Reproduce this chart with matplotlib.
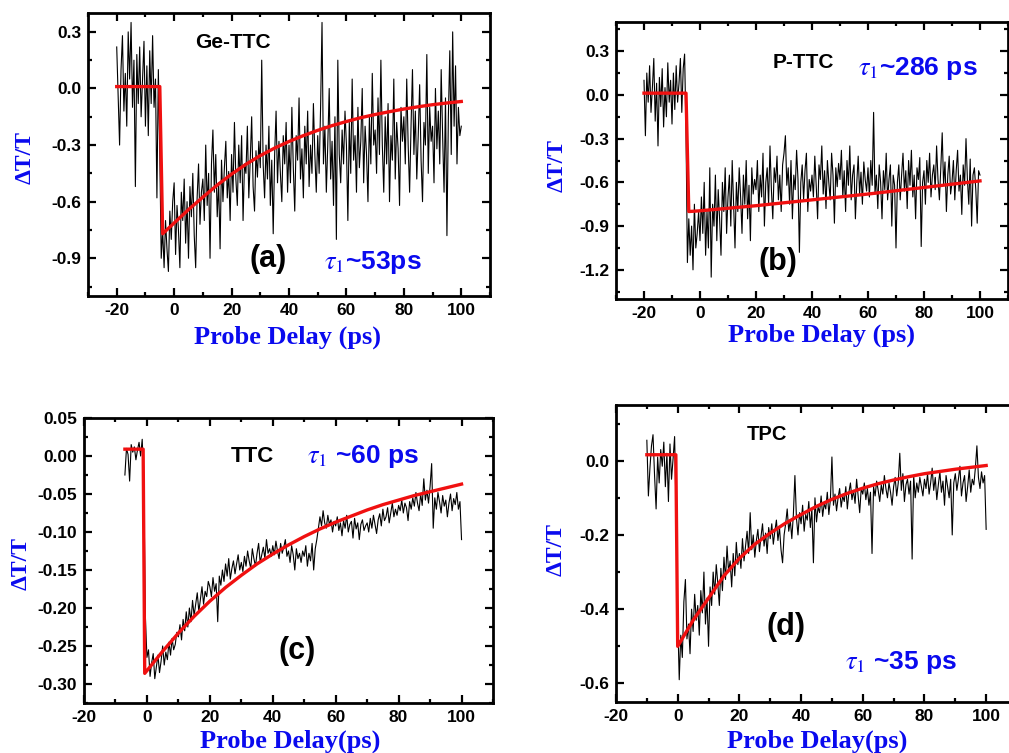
import numpy as np
import matplotlib
matplotlib.use("Agg")
import matplotlib.pyplot as plt
from matplotlib.ticker import MultipleLocator

plt.rcParams['mathtext.fontset'] = 'stix'
plt.rcParams['axes.unicode_minus'] = False

W, H = 1009, 753
BLUE = '#0a0aee'
RED = '#f01010'

# ---- (a) Ge-TTC : delay -20..100 ps, step 0.5, values in units of 0.01
ge_start = -20
ge_dt = [
    22, -5, -30, 10, 28, -12, 8, -20, 30, 5, 35, -10, 15, -52, 18, -8, 22, -15, 5, 25,
    -20, 12, -25, 20, -8, 28, -10, 5, -58, 10, -35, -90, -75, -95, -70, -85, -97, -65, -80, -60,
    -50, -88, -62, -75, -95, -55, -70, -48, -82, -60, -90, -52, -68, -45, -78, -95, -58, -40, -72, -55,
    -48, -70, -30, -62, -45, -90, -40, -22, -55, -35, -68, -50, -85, -38, -60, -42, -28, -58, -44, -70,
    -35, -55, -18, -48, -62, -30, -50, -25, -70, -40, -45, -20, -58, -38, -15, -52, -65, -33, -47, -28,
    -42, 15, -40, -58, -30, -48, -20, -62, -38, -77, -35, -12, -50, -28, -45, -60, -25, -40, -18, -55,
    -30, -50, -10, -42, -65, -25, -38, -5, -48, -32, -58, -20, -40, -12, -52, -30, -45, -8, -35, -55,
    -25, -45, -10, 35, -40, -20, -55, -30, 0, -48, -28, -62, -15, -80, 15, -35, -50, -22, -40, -12,
    -30, -70, -18, -45, 5, -38, -25, -55, -10, -42, -28, 0, -50, -20, -35, -60, -15, -40, 8, -30,
    -22, -45, -5, -35, 15, -30, -55, -15, -40, -8, -60, -25, -38, 5, -48, -18, -32, -62, -10, -28,
    -15, -40, 5, -30, -55, -20, 10, -35, -12, -48, -25, 2, -38, -60, -18, -30, 18, -45, -10, -28,
    -20, -50, 0, -32, -12, -40, 10, -25, -55, -5, -78, -15, 20, -35, 30, -20, 12, -40, -10, -25,
    -20,
]
ge_fit_t = [-20, -5, -4, 0, 5, 10, 15, 20, 25, 30, 35, 40, 45, 50, 55, 60, 65, 70, 75, 80, 85, 90, 95, 100]
ge_fit_v = [0.01, 0.01, -0.77, -0.713, -0.642, -0.576, -0.512, -0.454, -0.402, -0.356, -0.316, -0.281,
            -0.25, -0.222, -0.197, -0.175, -0.155, -0.138, -0.123, -0.109, -0.097, -0.086, -0.077, -0.069]

# ---- (b) P-TTC : delay -20..100 ps, step 0.5, values in units of 0.01
p_start = -20
p_dt = [
    10, -28, 15, -5, 20, -12, 5, 25, -18, 8, -35, 12, -8, 18, -22, 5, -15, 22, -5, 10,
    -20, 15, -10, 20, -5, 8, 25, -12, 18, 28, -25, -115, -85, -110, -90, -120, -75, -105, -95, -80,
    -100, -70, -95, -60, -110, -80, -105, -50, -125, -75, -90, -55, -100, -65, -85, -110, -60, -80, -50, -95,
    -70, -55, -90, -45, -75, -105, -60, -80, -50, -70, -95, -55, -75, -45, -85, -62, -100, -50, -68, -58,
    -65, -45, -80, -55, -70, -40, -90, -60, -50, -75, -35, -65, -85, -50, -60, -42, -72, -55, -80, -48,
    -40, -28, -62, -50, -75, -45, -85, -55, -65, -38, -58, -108, -60, -48, -72, -52, -40, -80, -58, -66,
    -55, -70, -42, -62, -85, -48, -58, -35, -68, -52, -78, -45, -60, -72, -40, -55, -88, -50, -63, -47,
    -58, -38, -70, -52, -80, -45, -62, -35, -72, -55, -48, -85, -60, -42, -68, -53, -75, -46, -58, -66,
    -50, -70, -45, -62, -12, -68, -55, -78, -48, -60, -85, -52, -65, -40, -72, -58, -48, -90, -55, -62,
    -105, -60, -48, -72, -55, -40, -66, -52, -78, -45, -62, -38, -70, -55, -85, -50, -58, -43, -104, -60,
    -52, -75, -45, -60, -40, -70, -55, -48, -65, -35, -58, -72, -50, -26, -62, -46, -80, -55, -42, -68,
    -60, -45, -72, -52, -38, -66, -55, -82, -48, -62, -30, -58, -75, -44, -90, -55, -50, -65, -88, -52,
    -55,
]
p_fit_t = [-20, -5, -4, 0, 20, 40, 60, 80, 100]
p_fit_v = [0.012, 0.012, -0.80, -0.795, -0.76, -0.72, -0.68, -0.635, -0.59]

# ---- (c) TTC : delay -7..100 ps, step 0.5, values in units of 0.001
ttc_start = -7
ttc_dt = [
    -25, 10, 2, -33, 15, 5, 12, -5, 8, 18, 0, 22,
    -30, -210,
    -265, -255, -290, -272, -260, -293, -278, -262, -285, -270, -250, -275, -258, -268, -245, -262, -240, -255, -248, -232,
    -238, -222, -242, -215, -230, -205, -225, -200, -218, -190, -210, -195, -180, -205, -188, -172, -195, -178, -185, -165,
    -172, -185, -160, -178, -168, -218, -158, -170, -150, -165, -142, -158, -135, -162, -148, -138, -155, -142, -130, -150,
    -140, -152, -132, -145, -125, -138, -148, -122, -135, -145, -128, -115, -140, -130, -120, -135, -110, -128, -122, -132,
    -118, -130, -112, -125, -135, -115, -128, -120, -110, -132, -125, -140, -118, -130, -150, -122, -135, -128, -140, -125,
    -132, -118, -145, -128, -138, -115, -150, -122, -110, -95, -80, -92, -72, -88, -95, -78, -90, -84, -100, -86,
    -92, -80, -98, -88, -105, -85, -95, -78, -100, -90, -86, -108, -82, -96, -88, -110, -90, -84, -98, -92,
    -88, -100, -82, -95, -78, -90, -102, -84, -76, -92, -70, -85, -80, -68, -88, -75, -62, -80, -70, -78,
    -65, -72, -58, -75, -62, -68, -85, -60, -70, -55, -66, -48, -62, -72, -50, -65, -30, -58, -45, -62,
    -40, -10, -95, -55, -70, -48, -60, -75, -52, -66, -58, -80, -62, -50, -72, -56, -64, -48, -70, -60,
    -110,
]
ttc_fit_t = [-7, -1.2, -0.7, 5, 10, 15, 20, 25, 30, 35, 40, 45, 50, 55, 60, 65, 70, 75, 80, 85, 90, 95, 100]
ttc_fit_v = [0.009, 0.009, -0.286, -0.257, -0.233, -0.211, -0.191, -0.173, -0.157, -0.142, -0.129, -0.117,
             -0.106, -0.096, -0.087, -0.079, -0.071, -0.064, -0.058, -0.052, -0.047, -0.042, -0.037]

# ---- (d) TPC : delay -10..100 ps, step 0.5, values in units of 0.001
tpc_start = -10
tpc_dt = [
    55, -95, -20, 40, 70, -40, -130, 10, -60, 30, -15, 50, -70, 20, -110, 45, -50, 5, 65, -150,
    -420, -590, -470, -530, -380, -320, -480, -440, -520, -400, -460, -360, -430, -390, -470, -350, -410, -300, -440, -370,
    -500, -340, -390, -300, -360, -280, -330, -390, -290, -350, -260, -320, -230, -300, -270, -340, -250, -310, -220, -280,
    -250, -290, -210, -270, -230, -190, -250, -140, -240, -200, -260, -215, -185, -245, -205, -170, -230, -195, -250, -180,
    -210, -170, -225, -190, -160, -215, -180, -240, -275, -200, -170, -130, -190, -160, -210, -145, -40, -155, -200, -140,
    -170, -120, -190, -145, -160, -110, -180, -130, -275, -100, -165, -125, -140, -95, -150, -115, -130, -85, -145, -105,
    10, -120, -90, -135, -100, -75, -125, -95, -110, -70, -130, -85, -60, -105, -80, -115, -50, -95, -140, -75,
    -90, -60, -105, -75, -120, -85, -250, -70, -95, -55, -80, -110, -65, -90, -40, -75, -100, -60, -85, -120,
    -70, -45, -95, -60, 20, -80, -35, -110, -65, -50, -90, -55, -265, -40, -100, -60, -85, -45, -70, -95,
    -50, -75, -35, -90, -60, -20, -80, -45, -105, -65, -30, -85, -55, -120, -40, -70, -100, -50, -200, -60,
    -35, -80, -50, -15, -95, -60, -40, -110, -70, -25, -85, -50, -65, -20, 40, -45, -75, -30, -60, -40,
    -185,
]
tpc_fit_t = [-10, -0.6, 0, 5, 10, 15, 20, 25, 30, 35, 40, 45, 50, 55, 60, 65, 70, 75, 80, 85, 90, 95, 100]
tpc_fit_v = [0.016, 0.016, -0.50, -0.43, -0.37, -0.31, -0.263, -0.225, -0.195, -0.168, -0.145, -0.123,
             -0.104, -0.088, -0.074, -0.062, -0.052, -0.043, -0.035, -0.029, -0.023, -0.018, -0.013]


def px(x, y):
    # pixel position in the picture -> figure fraction
    return x / W, 1 - y / H


def box(l, t, r, b):
    return [l / W, 1 - b / H, (r - l) / W, (b - t) / H]


fig = plt.figure(figsize=(W / 100, H / 100), dpi=100)

panels = [
    # data, start, unit, fit_t, fit_v, box, xlim, ylim, yticks, yminor
    (ge_dt, ge_start, 0.01, ge_fit_t, ge_fit_v, box(88, 13, 490, 296), (-30, 110), (-1.1, 0.4),
     [0.3, 0.0, -0.3, -0.6, -0.9], 0.15),
    (p_dt, p_start, 0.01, p_fit_t, p_fit_v, box(616, 22, 1008, 299), (-30, 110), (-1.4, 0.5),
     [0.3, 0.0, -0.3, -0.6, -0.9, -1.2], 0.15),
    (ttc_dt, ttc_start, 0.001, ttc_fit_t, ttc_fit_v, box(84, 418, 493, 703), (-20, 110), (-0.325, 0.05),
     [0.05, 0.0, -0.05, -0.10, -0.15, -0.20, -0.25, -0.30], 0.025),
    (tpc_dt, tpc_start, 0.001, tpc_fit_t, tpc_fit_v, box(616, 405, 1017, 702), (-20, 110), (-0.65, 0.15),
     [0.0, -0.2, -0.4, -0.6], 0.1),
]

axes = []
for data, start, unit, ft, fv, bx, xl, yl, yt, ymin in panels:
    ax = fig.add_axes(bx)
    t = start + 0.5 * np.arange(len(data))
    ax.plot(t, np.array(data) * unit, color='black', lw=0.8, zorder=2)
    ax.plot(ft, fv, color=RED, lw=2.4, zorder=3)
    ax.set_xlim(*xl)
    ax.set_ylim(*yl)
    ax.set_xticks([-20, 0, 20, 40, 60, 80, 100])
    ax.xaxis.set_minor_locator(MultipleLocator(10))
    ax.set_yticks(yt)
    ax.yaxis.set_minor_locator(MultipleLocator(ymin))
    ax.tick_params(which='both', direction='in', top=True, right=True, width=1.6)
    ax.tick_params(which='major', length=6, labelsize=12.5, pad=5)
    ax.tick_params(which='minor', length=3)
    for s in ax.spines.values():
        s.set_linewidth(2.0)
    axes.append(ax)

axes[2].set_yticklabels(['0.05', '0.00', '-0.05', '-0.10', '-0.15', '-0.20', '-0.25', '-0.30'])
for ax in axes:
    for lab in ax.get_xticklabels() + ax.get_yticklabels():
        lab.set_fontweight('bold')
        lab.set_family('Liberation Sans')


def ftext(x, y, s, **kw):
    fig.text(*px(x, y), s, ha='center', va='center', **kw)


serif = dict(family='Liberation Serif', fontweight='bold', color=BLUE)
sans = dict(family='Liberation Sans', fontweight='bold')

# axis labels
ftext(288, 337, 'Probe Delay (ps)', fontsize=19, **serif)
ftext(822, 335, 'Probe Delay (ps)', fontsize=19, **serif)
ftext(290, 741, 'Probe Delay(ps)', fontsize=19, **serif)
ftext(817, 741, 'Probe Delay(ps)', fontsize=19, **serif)
ftext(25, 157, 'ΔT/T', rotation=90, fontsize=17, **serif)
ftext(557, 165, 'ΔT/T', rotation=90, fontsize=17, **serif)
ftext(21, 563, 'ΔT/T', rotation=90, fontsize=17, **serif)
ftext(556, 550, 'ΔT/T', rotation=90, fontsize=17, **serif)

# sample names
ftext(233, 43, 'Ge-TTC', fontsize=15, **sans)
ftext(803, 62, 'P-TTC', fontsize=15, **sans)
ftext(252, 456, 'TTC', fontsize=16, **sans)
ftext(767, 434, 'TPC', fontsize=14.5, **sans)

# panel letters
ftext(268, 259, '(a)', fontsize=22, **sans)
ftext(778, 262, '(b)', fontsize=22, **sans)
ftext(297, 651, '(c)', fontsize=22, **sans)
ftext(786, 627, '(d)', fontsize=22, **sans)

# lifetimes
tau = dict(color=BLUE, fontsize=19, **sans)
ftext(373, 263, r'$\tau_1$~53ps', **tau)
ftext(918, 68, r'$\tau_1$~286 ps', **tau)
ftext(363, 456, r'$\tau_1$ ~60 ps', **tau)
ftext(901, 662, r'$\tau_1$ ~35 ps', **tau)

fig.savefig('out.png', dpi=100)
